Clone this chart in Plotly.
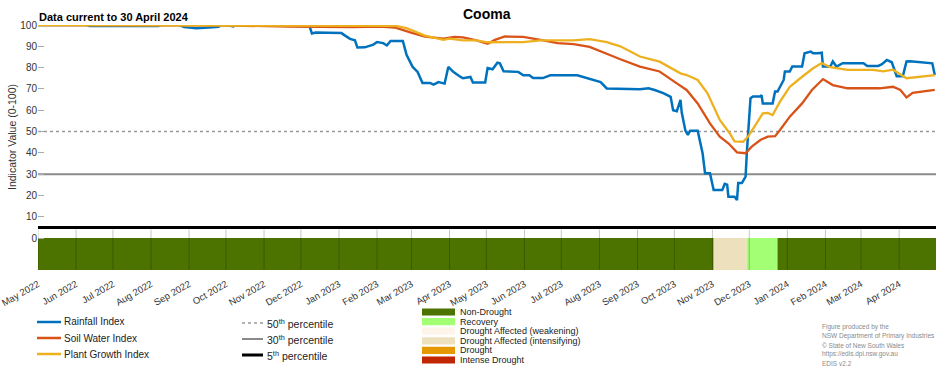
import plotly.graph_objects as go
import pandas as pd

# ---------------- data ----------------
rain_dates = ["2022-05-01", "2022-06-10", "2022-06-12", "2022-08-07", "2022-08-09", "2022-08-24",
              "2022-08-28", "2022-09-07", "2022-09-20", "2022-09-25", "2022-09-27", "2022-10-02",
              "2022-10-07", "2022-10-09", "2022-11-26", "2022-11-28", "2022-12-08", "2022-12-10",
              "2022-12-13", "2023-01-03", "2023-01-06", "2023-01-10", "2023-01-14", "2023-01-16",
              "2023-01-22", "2023-01-29", "2023-02-01", "2023-02-06", "2023-02-09", "2023-02-12",
              "2023-02-22", "2023-02-25", "2023-02-28", "2023-03-02", "2023-03-06", "2023-03-10",
              "2023-03-16", "2023-03-19", "2023-03-23", "2023-03-28", "2023-03-31", "2023-04-04",
              "2023-04-10", "2023-04-12", "2023-04-18", "2023-04-20", "2023-04-30", "2023-05-02",
              "2023-05-06", "2023-05-10", "2023-05-12", "2023-05-15", "2023-05-27", "2023-05-31",
              "2023-06-05", "2023-06-08", "2023-06-16", "2023-06-22", "2023-07-14", "2023-07-19",
              "2023-08-02", "2023-08-07", "2023-08-18", "2023-09-03", "2023-09-10", "2023-09-15",
              "2023-09-22", "2023-09-28", "2023-09-30", "2023-10-03", "2023-10-06", "2023-10-07",
              "2023-10-10", "2023-10-12", "2023-10-14", "2023-10-20", "2023-10-24", "2023-10-26",
              "2023-10-30", "2023-11-02", "2023-11-09", "2023-11-11", "2023-11-13", "2023-11-14",
              "2023-11-19", "2023-11-21", "2023-11-22", "2023-11-25", "2023-11-28", "2023-11-29",
              "2023-12-02", "2023-12-04", "2023-12-10", "2023-12-11", "2023-12-12", "2023-12-20",
              "2023-12-22", "2023-12-24", "2023-12-29", "2023-12-30", "2024-01-03", "2024-01-05",
              "2024-01-13", "2024-01-15", "2024-01-20", "2024-01-22", "2024-01-26", "2024-01-29",
              "2024-01-30", "2024-02-05", "2024-02-07", "2024-02-10", "2024-02-15", "2024-03-03",
              "2024-03-06", "2024-03-15", "2024-03-18", "2024-03-22", "2024-03-26", "2024-03-30",
              "2024-04-04", "2024-04-07", "2024-04-10", "2024-04-28", "2024-04-30"]
rain_values = [100, 100, 99.5, 99.5, 100, 100,
               99, 98.5, 99, 99.2, 100, 100,
               99.3, 100, 100, 99.5, 99.5, 96,
               96.5, 96.2, 95, 93.5, 92.8, 89.4,
               89.5, 90.8, 92, 91.5, 90.4, 92.5,
               92.5, 86, 82.6, 80.3, 78, 72.8,
               72.8, 72, 73.2, 72.5, 80.3, 78,
               75.6, 75, 75.6, 73, 73, 79.8,
               79.2, 82.3, 82, 78.3, 78, 76.4,
               76.4, 75.1, 75.1, 76.4, 76.4, 75.5,
               73.2, 70.2, 70, 69.8, 70.3, 69.5,
               68, 66.3, 60, 59.5, 64.8, 59,
               50.4, 48.4, 50.4, 50.4, 39.8, 30.4,
               30.4, 22.5, 22.5, 25.4, 25, 19.4,
               19.4, 17.8, 25.8, 25.8, 28.8, 40,
               65.6, 66.4, 66.4, 67.1, 63.2, 63.2,
               68.8, 68.8, 74.2, 78.2, 78.2, 80.5,
               80.5, 86.7, 87.5, 86.7, 86.7, 87,
               80.5, 80.5, 82.9, 80.5, 82.1, 82.1,
               80.8, 80.8, 81.6, 83.6, 82.5, 76,
               76, 82.9, 83, 82, 76.5]

soil_dates = ["2022-05-01", "2022-09-26", "2022-11-22", "2023-01-12", "2023-02-03", "2023-02-16",
              "2023-02-28", "2023-03-12", "2023-03-27", "2023-04-05", "2023-04-12", "2023-04-23",
              "2023-05-02", "2023-05-08", "2023-05-16", "2023-05-31", "2023-06-14", "2023-06-28",
              "2023-07-11", "2023-07-24", "2023-08-10", "2023-08-18", "2023-09-03", "2023-09-19",
              "2023-10-03", "2023-10-11", "2023-10-20", "2023-10-30", "2023-11-07", "2023-11-14",
              "2023-11-21", "2023-11-28", "2023-12-03", "2023-12-10", "2023-12-16", "2023-12-22",
              "2023-12-26", "2024-01-03", "2024-01-13", "2024-01-21", "2024-01-28", "2024-01-30",
              "2024-02-07", "2024-02-19", "2024-03-16", "2024-03-27", "2024-04-02", "2024-04-07",
              "2024-04-12", "2024-04-30"]
soil_values = [100, 99.8, 99.3, 99, 99.3, 98.8,
               96.5, 94.5, 93.6, 94.4, 94.2, 92.8,
               91.2, 93, 94.6, 94.4, 93, 91.5,
               91, 89.7, 85.8, 83.9, 80.5, 78.2,
               72.6, 69.5, 63.2, 53.8, 47.6, 44.5,
               40.2, 39.8, 42.9, 46, 47.6, 47.8,
               50.7, 57, 63.2, 69.5, 73.5, 74.6,
               71.8, 70.3, 70.3, 71, 69.5, 66,
               68.2, 69.5]

plant_dates = ["2022-05-01", "2023-02-16", "2023-02-25", "2023-03-12", "2023-03-27", "2023-04-01",
               "2023-04-12", "2023-04-23", "2023-05-02", "2023-05-18", "2023-05-31", "2023-06-14",
               "2023-07-11", "2023-07-24", "2023-08-07", "2023-08-18", "2023-09-03", "2023-09-19",
               "2023-10-06", "2023-10-11", "2023-10-20", "2023-10-28", "2023-11-07", "2023-11-15",
               "2023-11-19", "2023-11-26", "2023-11-30", "2023-12-06", "2023-12-12", "2023-12-16",
               "2023-12-20", "2023-12-26", "2024-01-03", "2024-01-13", "2024-01-22", "2024-01-29",
               "2024-02-05", "2024-02-19", "2024-03-11", "2024-03-19", "2024-03-27", "2024-04-07",
               "2024-04-18", "2024-04-30"]
plant_values = [100, 99.6, 98.5, 95, 93, 93.6,
                92.8, 92.8, 91.9, 92, 92, 92.8,
                92.8, 93.4, 92, 90, 85.2, 82.8,
                77.3, 76.5, 74.2, 67.9, 55.4, 49.2,
                45.4, 45.2, 47.6, 53, 58.5, 58.7,
                57.7, 64, 71, 75.7, 79.7, 82.1,
                80.2, 78.9, 78.9, 78.2, 79, 75,
                75.7, 76.5]

band_starts = ["2022-05-01", "2023-11-02", "2023-11-29", "2023-12-24"]
band_ends = ["2023-11-02", "2023-11-29", "2023-12-24", "2024-05-01"]
band_categories = ["Non-Drought", "Drought Affected (intensifying)", "Recovery", "Non-Drought"]

category_names = ["Non-Drought", "Recovery", "Drought Affected (weakening)",
                  "Drought Affected (intensifying)", "Drought", "Intense Drought"]
category_colors = ["#4c7300", "#a3ff73", "#fdf5ea", "#ede1bd", "#e69800", "#c02600"]

percentile_values = [50, 30, 5]
percentile_labels = ["50<sup>th</sup> percentile", "30<sup>th</sup> percentile", "5<sup>th</sup> percentile"]

tick_dates = ["2022-05-01", "2022-06-01", "2022-07-01", "2022-08-01", "2022-09-01", "2022-10-01",
              "2022-11-01", "2022-12-01", "2023-01-01", "2023-02-01", "2023-03-01", "2023-04-01",
              "2023-05-01", "2023-06-01", "2023-07-01", "2023-08-01", "2023-09-01", "2023-10-01",
              "2023-11-01", "2023-12-01", "2024-01-01", "2024-02-01", "2024-03-01", "2024-04-01"]
tick_labels = ["May 2022", "Jun 2022", "Jul 2022", "Aug 2022", "Sep 2022", "Oct 2022",
               "Nov 2022", "Dec 2022", "Jan 2023", "Feb 2023", "Mar 2023", "Apr 2023",
               "May 2023", "Jun 2023", "Jul 2023", "Aug 2023", "Sep 2023", "Oct 2023",
               "Nov 2023", "Dec 2023", "Jan 2024", "Feb 2024", "Mar 2024", "Apr 2024"]

series_names = ["Rainfall Index", "Soil Water Index", "Plant Growth Index"]
series_colors = ["#0072BD", "#D95319", "#EDB120"]

# ---------------- figure ----------------
W, H = 952, 370
ML, MR, MT, MB = 38, 16, 25, 100
PW, PH = W - ML - MR, H - MT - MB


def px(x):
    return (x - ML) / PW


def py(y):
    return (H - MB - y) / PH


FONT = "Liberation Sans, Arial, sans-serif"
fig = go.Figure()

# drought category band
cat_color = dict(zip(category_names, category_colors))
starts = pd.to_datetime(band_starts)
ends = pd.to_datetime(band_ends)
widths = [(e - s).total_seconds() * 1000 for s, e in zip(starts, ends)]
fig.add_trace(go.Bar(
    x=band_starts, y=[15] * len(band_starts), base=-15, width=widths, offset=0,
    marker=dict(color=[cat_color[c] for c in band_categories], line=dict(width=0)),
    hoverinfo="skip", showlegend=False))

# index lines
for name, d, v, c, w in zip(series_names, [rain_dates, soil_dates, plant_dates],
                            [rain_values, soil_values, plant_values], series_colors,
                            [2.5, 2.3, 2.3]):
    fig.add_trace(go.Scatter(x=d, y=v, mode="lines", name=name,
                             line=dict(color=c, width=w), showlegend=False, hoverinfo="skip"))

# percentile lines
pct_styles = [dict(color="#999999", width=1.6, dash="dot"),
              dict(color="#8a8a8a", width=2),
              dict(color="#000000", width=3)]
shapes = []
for val, st in zip(percentile_values, pct_styles):
    shapes.append(dict(type="line", xref="paper", yref="y", x0=0, x1=1, y0=val, y1=val,
                       line=st, layer="below"))

# month gridlines in lower band region
for t in tick_dates:
    shapes.append(dict(type="line", xref="x", yref="y", x0=t, x1=t, y0=-15, y1=4,
                       line=dict(color="rgba(0,0,0,0.22)", width=1), layer="above"))

annotations = []
# title and subtitle
annotations.append(dict(text="<b>Cooma</b>", xref="paper", yref="paper", x=0.5, y=py(14),
                        xanchor="center", yanchor="middle", showarrow=False,
                        font=dict(family=FONT, size=14, color="#000")))
annotations.append(dict(text="<b>Data current to 30 April 2024</b>", xref="paper", yref="paper",
                        x=px(37), y=py(17), xanchor="left", yanchor="middle", showarrow=False,
                        font=dict(family=FONT, size=11, color="#000")))
annotations.append(dict(text="Indicator Value (0-100)", xref="paper", yref="paper",
                        x=px(12), y=py(137), textangle=-90, xanchor="center", yanchor="middle",
                        showarrow=False, font=dict(family=FONT, size=10.5, color="#333")))

# series legend
for i, (name, c) in enumerate(zip(series_names, series_colors)):
    yy = 322 + 16 * i
    shapes.append(dict(type="line", xref="paper", yref="paper", x0=px(37), x1=px(61),
                       y0=py(yy), y1=py(yy), line=dict(color=c, width=2.5)))
    annotations.append(dict(text=name, xref="paper", yref="paper", x=px(62), y=py(yy),
                            xanchor="left", yanchor="middle", showarrow=False,
                            font=dict(family=FONT, size=10, color="#222")))

# percentile legend
for i, (lab, st) in enumerate(zip(percentile_labels, pct_styles)):
    yy = 323 + 16 * i
    shapes.append(dict(type="line", xref="paper", yref="paper", x0=px(242), x1=px(263),
                       y0=py(yy), y1=py(yy), line=st))
    annotations.append(dict(text=lab, xref="paper", yref="paper", x=px(265), y=py(yy),
                            xanchor="left", yanchor="middle", showarrow=False,
                            font=dict(family=FONT, size=10.5, color="#222")))

# category legend
for i, (name, c) in enumerate(zip(category_names, category_colors)):
    yy = 312 + 9.6 * i
    shapes.append(dict(type="rect", xref="paper", yref="paper", x0=px(422), x1=px(455),
                       y0=py(yy - 3.6), y1=py(yy + 3.6), fillcolor=c, line=dict(width=0)))
    annotations.append(dict(text=name, xref="paper", yref="paper", x=px(458), y=py(yy),
                            xanchor="left", yanchor="middle", showarrow=False,
                            font=dict(family=FONT, size=9, color="#222")))

# credits
credit_lines = ["Figure produced by the", "NSW Department of Primary Industries",
                "© State of New South Wales", "https://edis.dpi.nsw.gov.au", "EDIS v2.2"]
for i, t in enumerate(credit_lines):
    annotations.append(dict(text=t, xref="paper", yref="paper", x=px(820), y=py(327 + 9 * i),
                            xanchor="left", yanchor="middle", showarrow=False,
                            font=dict(family=FONT, size=6.5, color="#8a8a8a")))

fig.update_layout(
    width=W, height=H,
    margin=dict(l=ML, r=MR, t=MT, b=MB, autoexpand=False),
    paper_bgcolor="white", plot_bgcolor="white",
    showlegend=False, hovermode=False,
    shapes=shapes, annotations=annotations,
    font=dict(family=FONT, color="#333"),
    xaxis=dict(type="date", range=["2022-05-01", "2024-05-01"], tickvals=tick_dates,
               ticktext=tick_labels, tickangle=-30, tickfont=dict(size=9.5, color="#333"),
               showgrid=False, zeroline=False, showline=False, ticks="outside", ticklen=4,
               tickcolor="rgba(0,0,0,0)", automargin=False, ticklabeloverflow="allow"),
    yaxis=dict(range=[-15, 100], tickvals=list(range(0, 101, 10)),
               tickfont=dict(size=10, color="#333"), ticks="inside", ticklen=6,
               tickcolor="#aaaaaa", showgrid=False, zeroline=False, showline=False,
               automargin=False),
)

fig.write_html("out.html", config={"displayModeBar": False},
               post_script="document.body.style.margin='0';document.body.style.padding='0';")
